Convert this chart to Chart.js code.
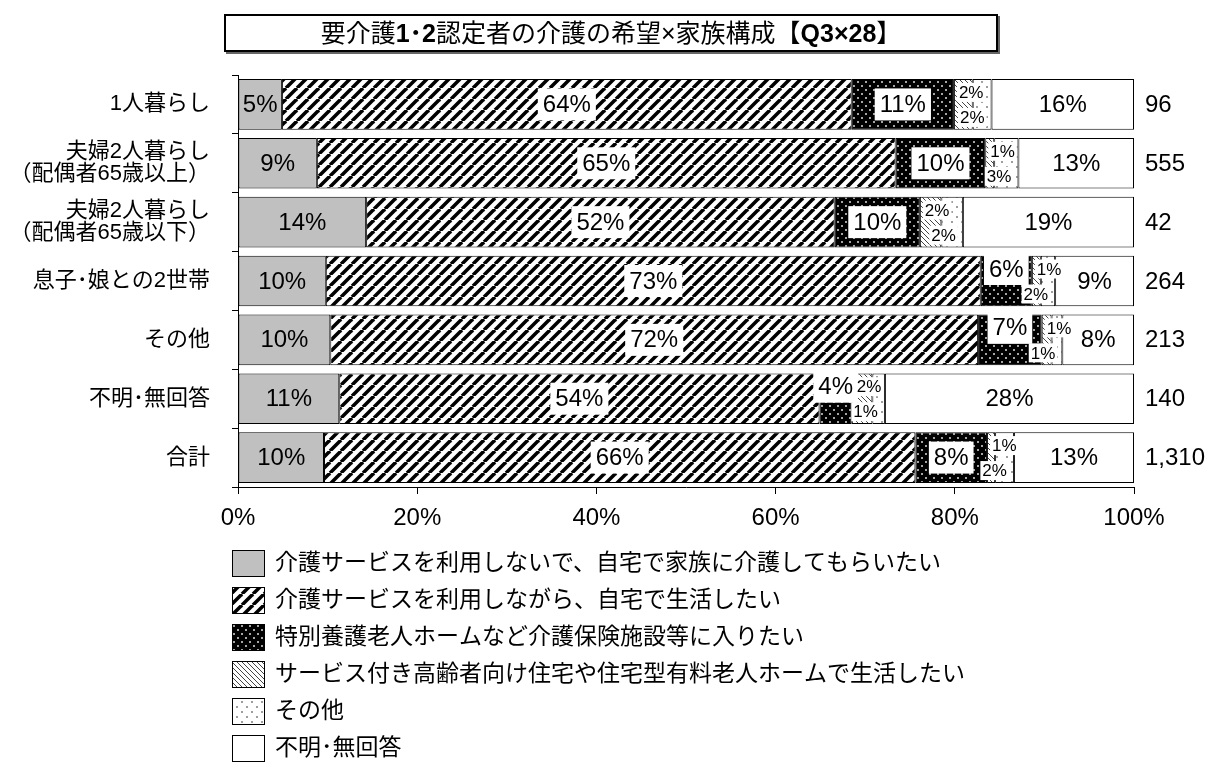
<!DOCTYPE html>
<html>
<head>
<meta charset="utf-8">
<script src="https://cdn.jsdelivr.net/npm/chart.js@4/dist/chart.umd.min.js"></script>
<style>
  body { margin: 0; background: #fff; }
  #wrap { position: relative; width: 1214px; height: 782px; }
  #title {
    position: absolute; left: 224px; top: 14px; width: 770px; height: 34px;
    border: 2px solid #000; box-shadow: 2px 2px 0 #666; background: #fff;
    font: 25px "Liberation Sans", "Noto Sans CJK JP", sans-serif;
    text-align: center; line-height: 34px;
  }
</style>
</head>
<body>
<div id="wrap">
  <canvas id="chart" width="1214" height="782"></canvas>
  <div id="title">要介護<b>1･2</b>認定者の介護の希望×家族構成【<b>Q3×28</b>】</div>
</div>
<script>
const categories = [
  "1人暮らし",
  ["夫婦2人暮らし", "（配偶者65歳以上）"],
  ["夫婦2人暮らし", "（配偶者65歳以下）"],
  "息子･娘との2世帯",
  "その他",
  "不明･無回答",
  "合計",
];
const totals = ["96", "555", "42", "264", "213", "140", "1,310"];
const xTickValues = [0, 20, 40, 60, 80, 100];

const seriesNames = [
  "介護サービスを利用しないで、自宅で家族に介護してもらいたい",
  "介護サービスを利用しながら、自宅で生活したい",
  "特別養護老人ホームなど介護保険施設等に入りたい",
  "サービス付き高齢者向け住宅や住宅型有料老人ホームで生活したい",
  "その他",
  "不明･無回答",
];
const familyCare     = [4.9, 8.8, 14.3, 9.8, 10.3, 11.3, 9.6];
const homeService    = [63.6, 64.6, 52.3, 73.1, 72.3, 53.6, 66.0];
const careFacility   = [11.4, 10.0, 9.5, 5.7, 7.1, 3.6, 8.0];
const seniorHousing  = [2.1, 1.0, 2.4, 1.0, 1.1, 2.3, 0.9];
const otherWish      = [2.1, 2.7, 2.4, 1.6, 1.2, 1.4, 2.1];
const noAnswer       = [15.9, 12.9, 19.1, 8.8, 8.0, 27.8, 13.4];

const FONT = '"Liberation Sans", "Noto Sans CJK JP", sans-serif';
const canvas = document.getElementById("chart");
const ctx = canvas.getContext("2d");

function makePattern(w, h, draw) {
  const c = document.createElement("canvas");
  c.width = w;
  c.height = h;
  draw(c.getContext("2d"), w, h);
  return ctx.createPattern(c, "repeat");
}

// wide "/" stripes
const hatchWide = makePattern(11, 11, (g, w, h) => {
  g.fillStyle = "#fff";
  g.fillRect(0, 0, w, h);
  g.strokeStyle = "#000";
  g.lineWidth = 3.5;
  for (let k = -1; k <= 1; k++) {
    g.beginPath();
    g.moveTo(k * w, h);
    g.lineTo(k * w + w, 0);
    g.stroke();
  }
});
// black with white dots
const blackDots = makePattern(8, 8, (g, w, h) => {
  g.fillStyle = "#000";
  g.fillRect(0, 0, w, h);
  g.fillStyle = "#ddd";
  [[2, 2], [6, 6]].forEach(([x, y]) => {
    g.beginPath();
    g.arc(x, y, 1, 0, Math.PI * 2);
    g.fill();
  });
});
// thin "\" stripes
const hatchThin = makePattern(5, 5, (g, w, h) => {
  g.fillStyle = "#fff";
  g.fillRect(0, 0, w, h);
  g.strokeStyle = "#444";
  g.lineWidth = 1;
  for (let k = -1; k <= 1; k++) {
    g.beginPath();
    g.moveTo(k * w, 0);
    g.lineTo(k * w + w, h);
    g.stroke();
  }
});
// sparse dots
const sparseDots = makePattern(10, 10, (g, w, h) => {
  g.fillStyle = "#fff";
  g.fillRect(0, 0, w, h);
  g.fillStyle = "#222";
  [[2, 2], [7, 7]].forEach(([x, y]) => {
    g.beginPath();
    g.arc(x, y, 0.8, 0, Math.PI * 2);
    g.fill();
  });
});

const fills = ["#c0c0c0", hatchWide, blackDots, hatchThin, sparseDots, "#fff"];
const values = [familyCare, homeService, careFacility, seniorHousing, otherWish, noAnswer];
const labelBg = [false, true, true, true, true, false];

function textBox(c, txt, x, y, size, align, bg) {
  c.font = size + "px " + FONT;
  c.textAlign = align;
  c.textBaseline = "middle";
  const w = c.measureText(txt).width;
  const x0 = align === "center" ? x - w / 2 : align === "left" ? x : x - w;
  if (bg) {
    const px = size > 20 ? 5 : 2;
    const py = size > 20 ? 4 : 1;
    c.fillStyle = "#fff";
    c.fillRect(x0 - px, y - size / 2 - py, w + px * 2, size + py * 2);
  }
  c.fillStyle = "#000";
  c.fillText(txt, x, y + 1);
}

const segLabels = {
  id: "segLabels",
  afterDatasetsDraw(chart) {
    const c = chart.ctx;
    c.save();
    chart.data.datasets.forEach((ds, di) => {
      chart.getDatasetMeta(di).data.forEach((bar, i) => {
        const v = ds.data[i];
        const p = bar.getProps(["x", "y", "base"], true);
        const left = Math.min(p.base, p.x), right = Math.max(p.base, p.x);
        const txt = Math.round(v) + "%";
        let x = (left + right) / 2, y = p.y, size = 24, align = "center";
        if (di === 2 && v < 7.5) y = p.y - 12;
        if (di === 3) { size = 17; align = "left"; x = left + 5; y = p.y - 12; }
        if (di === 4) { size = 17; align = "right"; x = right - 7; y = p.y + 13; }
        textBox(c, txt, x, y, size, align, labelBg[di]);
      });
    });
    c.restore();
  },
};

const sideText = {
  id: "sideText",
  afterDraw(chart) {
    const c = chart.ctx;
    const ys = chart.scales.y;
    c.save();
    c.fillStyle = "#000";
    c.textAlign = "left";
    c.textBaseline = "middle";
    c.font = "24px " + FONT;
    totals.forEach((t, i) => c.fillText(t, chart.chartArea.right + 11, ys.getPixelForValue(i) + 1));

    // legend, one entry per line
    c.font = "23px " + FONT;
    chart.data.datasets.forEach((ds, i) => {
      const cy = 563 + i * 37;
      c.fillStyle = ds.backgroundColor;
      c.fillRect(232, cy - 13, 32, 26);
      c.strokeStyle = "#000";
      c.lineWidth = 1;
      c.strokeRect(232.5, cy - 12.5, 32, 26);
      c.fillStyle = "#000";
      c.fillText(ds.label, 275, cy + 1);
    });
    c.restore();
  },
};

Chart.defaults.font.family = FONT;
Chart.defaults.font.size = 22;
Chart.defaults.color = "#000";

new Chart(ctx, {
  type: "bar",
  data: {
    labels: categories,
    datasets: seriesNames.map((name, i) => ({
      label: name,
      data: values[i],
      backgroundColor: fills[i],
      borderColor: "#000",
      borderWidth: 1,
      borderSkipped: false,
      barPercentage: 0.86,
      categoryPercentage: 1,
    })),
  },
  options: {
    indexAxis: "y",
    responsive: false,
    animation: false,
    layout: { padding: { left: 0, right: 80, top: 75, bottom: 255 } },
    plugins: { legend: { display: false }, tooltip: { enabled: false } },
    scales: {
      x: {
        stacked: true,
        min: 0,
        max: 100,
        afterBuildTicks: (axis) => { axis.ticks = xTickValues.map((v) => ({ value: v })); },
        afterFit: (axis) => { axis.height = 40; },
        ticks: { callback: (v) => v + "%", padding: 10, maxRotation: 0, font: { size: 24 } },
        grid: { drawOnChartArea: false, tickLength: 7, color: "#000" },
        border: { color: "#000", width: 1 },
      },
      y: {
        stacked: true,
        afterFit: (axis) => { axis.width = 238; },
        ticks: { padding: 22, font: { size: 22, lineHeight: 1.0 } },
        grid: { offset: true, drawOnChartArea: false, tickLength: 6, color: "#000" },
        border: { color: "#000", width: 1 },
      },
    },
  },
  plugins: [segLabels, sideText],
});
</script>
</body>
</html>
